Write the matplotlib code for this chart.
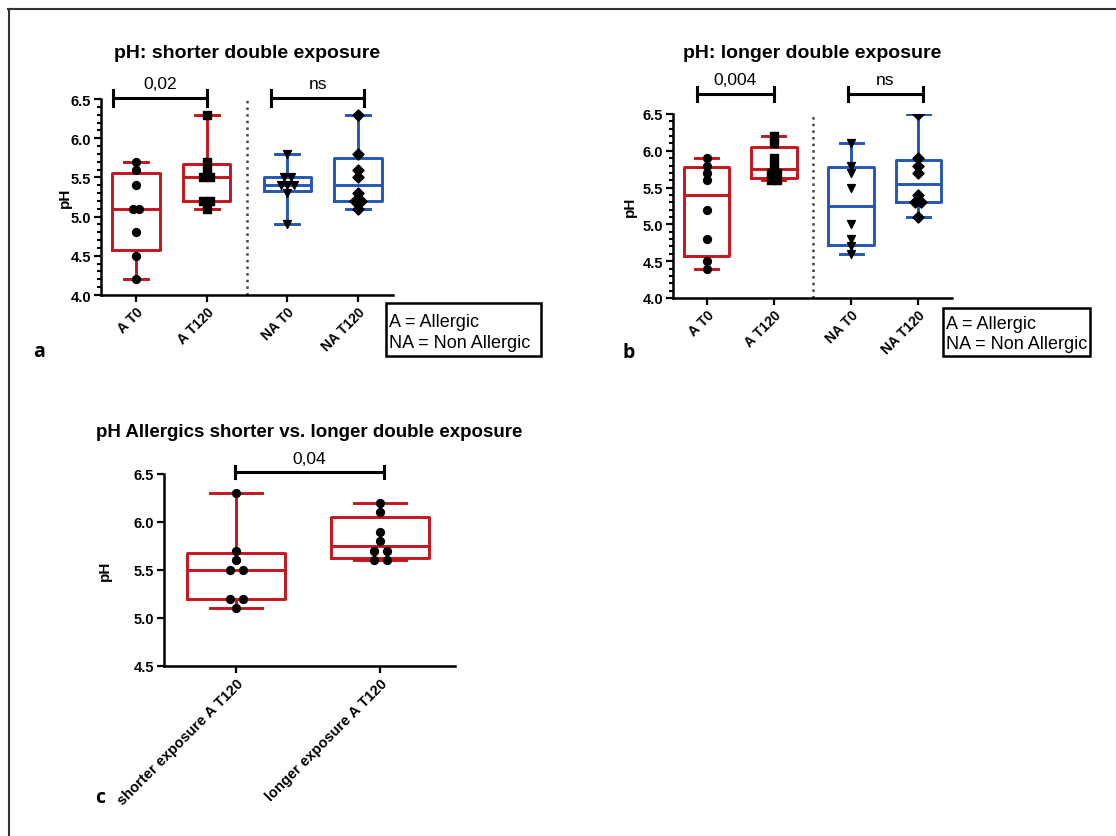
import numpy as np
import matplotlib
matplotlib.use("Agg")
import matplotlib.pyplot as plt
from matplotlib.lines import Line2D
from matplotlib.patches import Rectangle
from collections import Counter

plt.rcParams['font.family'] = ['Liberation Sans', 'DejaVu Sans']

W, H = 1116, 837
RED = '#c3161c'
BLUE = '#2556b5'

# panel a: shorter double exposure
a_labels = ["A T0", "A T120", "NA T0", "NA T120"]
a_at0 = [5.7, 5.6, 5.4, 5.1, 5.1, 4.8, 4.5, 4.2]
a_at120 = [6.3, 5.7, 5.6, 5.5, 5.5, 5.2, 5.2, 5.1]
a_nat0 = [5.8, 5.5, 5.5, 5.4, 5.4, 5.4, 5.3, 4.9]
a_nat120 = [6.3, 5.8, 5.6, 5.5, 5.3, 5.2, 5.2, 5.1]
a_pvals = ["0,02", "ns"]

# panel b: longer double exposure
b_labels = ["A T0", "A T120", "NA T0", "NA T120"]
b_at0 = [5.9, 5.8, 5.7, 5.6, 5.2, 4.8, 4.5, 4.4]
b_at120 = [6.2, 6.1, 5.9, 5.8, 5.7, 5.7, 5.6, 5.6]
b_nat0 = [6.1, 5.8, 5.7, 5.5, 5.0, 4.8, 4.7, 4.6]
b_nat120 = [6.5, 5.9, 5.8, 5.7, 5.4, 5.3, 5.3, 5.1]
b_pvals = ["0,004", "ns"]

# panel c: allergics shorter vs longer
c_labels = ["shorter exposure A T120", "longer exposure A T120"]
c_pval = "0,04"

legend_lines = ["A = Allergic", "NA = Non Allergic"]


def box_stats(vals):
    v = np.asarray(vals, dtype=float)
    q1, med, q3 = np.percentile(v, [25, 50, 75], method='weibull')
    return dict(med=med, q1=q1, q3=q3, whislo=v.min(), whishi=v.max(), fliers=[])


def spread(vals, pos, step=0.09):
    # put equal values side by side
    cnt = Counter(vals)
    seen = Counter()
    xs = []
    for v in vals:
        n = cnt[v]
        k = seen[v]
        seen[v] += 1
        xs.append(pos + (k - (n - 1) / 2) * step)
    return xs


def draw_group(ax, vals, pos, color, marker, capw=0.34):
    lw = 2.1
    ax.bxp([box_stats(vals)], positions=[pos], widths=0.68, capwidths=[capw],
           showfliers=False, patch_artist=False,
           boxprops=dict(color=color, linewidth=lw),
           medianprops=dict(color=color, linewidth=lw),
           whiskerprops=dict(color=color, linewidth=lw),
           capprops=dict(color=color, linewidth=lw))
    ax.scatter(spread(vals, pos), vals, marker=marker, s=32, color='black', zorder=3)


def style_axis(ax, ymin, ymax, minor=True):
    for s in ['top', 'right']:
        ax.spines[s].set_visible(False)
    for s in ['left', 'bottom']:
        ax.spines[s].set_linewidth(1.8)
    ax.set_ylim(ymin, ymax)
    ticks = np.arange(ymin, ymax + 0.01, 0.5)
    ax.set_yticks(ticks)
    ax.set_yticklabels([f"{t:.1f}" for t in ticks], fontweight='bold', fontsize=10.5)
    if minor:
        ax.set_yticks(np.arange(ymin, ymax + 0.01, 0.1), minor=True)
        ax.tick_params(axis='y', which='minor', length=3, width=1.5)
    ax.tick_params(axis='both', which='major', length=5, width=1.6, pad=2)
    ax.set_ylabel("pH", fontweight='bold', fontsize=11)


def sig_bar(ax, x1, x2, y, h, text, ty):
    ax.plot([x1, x2], [y, y], color='black', lw=2.2, clip_on=False)
    ax.plot([x1, x1], [y - h, y + h], color='black', lw=2.2, clip_on=False)
    ax.plot([x2, x2], [y - h, y + h], color='black', lw=2.2, clip_on=False)
    ax.text((x1 + x2) / 2, ty, text, ha='center', va='bottom', fontsize=12.5, clip_on=False)


def legend_box(fig, x0, y0, x1, y1, base1, base2):
    fig.add_artist(Rectangle((x0 / W, 1 - y1 / H), (x1 - x0) / W, (y1 - y0) / H,
                             transform=fig.transFigure, fill=False, ec='black', lw=1.8))
    for line, yb in zip(legend_lines, [base1, base2]):
        fig.text((x0 + 3) / W, 1 - yb / H, line, fontsize=13, va='baseline', ha='left')


fig = plt.figure(figsize=(W / 100, H / 100), dpi=100)

# ---- panel a
pos4 = [1, 2, 3.15, 4.15]
ax = fig.add_axes([101 / W, 1 - 296 / H, (393 - 101) / W, (296 - 100) / H])
for vals, p, col, m in zip([a_at0, a_at120, a_nat0, a_nat120], pos4,
                           [RED, RED, BLUE, BLUE], ['o', 's', 'v', 'D']):
    draw_group(ax, vals, p, col, m)
ax.set_xlim(0.5, 4.65)
style_axis(ax, 4.0, 6.5)
ax.set_xticks(pos4)
ax.set_xticklabels(a_labels, rotation=45, ha='right', rotation_mode='anchor',
                   fontweight='bold', fontsize=10)
ax.axvline((pos4[1] + pos4[2]) / 2, color='#444444', ls=':', lw=1.8)
ax.yaxis.set_label_coords(-0.10, 0.5)
sig_bar(ax, 0.67, 2.0, 6.51, 0.1, a_pvals[0], 6.6)
sig_bar(ax, 2.92, 4.24, 6.51, 0.1, a_pvals[1], 6.6)
fig.text(247 / W, 1 - 54 / H, "pH: shorter double exposure", fontweight='bold',
         fontsize=14, ha='center', va='center')

# ---- panel b
ax = fig.add_axes([673 / W, 1 - 299 / H, (952 - 673) / W, (299 - 115) / H])
for vals, p, col, m in zip([b_at0, b_at120, b_nat0, b_nat120], pos4,
                           [RED, RED, BLUE, BLUE], ['o', 's', 'v', 'D']):
    draw_group(ax, vals, p, col, m)
ax.set_xlim(0.5, 4.65)
style_axis(ax, 4.0, 6.5)
ax.set_xticks(pos4)
ax.set_xticklabels(b_labels, rotation=45, ha='right', rotation_mode='anchor',
                   fontweight='bold', fontsize=10)
ax.axvline((pos4[1] + pos4[2]) / 2, color='#444444', ls=':', lw=1.8)
ax.yaxis.set_label_coords(-0.13, 0.5)
sig_bar(ax, 0.85, 2.0, 6.77, 0.1, b_pvals[0], 6.87)
sig_bar(ax, 3.1, 4.22, 6.77, 0.1, b_pvals[1], 6.87)
fig.text(812 / W, 1 - 53 / H, "pH: longer double exposure", fontweight='bold',
         fontsize=14, ha='center', va='center')

# ---- panel c
ax = fig.add_axes([164 / W, 1 - 667 / H, (455 - 164) / W, (667 - 475) / H])
for vals, p in zip([a_at120, b_at120], [1, 2]):
    draw_group(ax, vals, p, RED, 'o', capw=0.36)
ax.set_xlim(0.5, 2.52)
style_axis(ax, 4.5, 6.5, minor=False)
ax.set_xticks([1, 2])
ax.set_xticklabels(c_labels, rotation=45, ha='right', rotation_mode='anchor',
                   fontweight='bold', fontsize=10.5)
ax.yaxis.set_label_coords(-0.18, 0.5)
sig_bar(ax, 0.99, 2.03, 6.52, 0.06, c_pval, 6.58)
ax.plot([0.99, 0.99], [6.46, 6.58], color='black', lw=2.2, clip_on=False)
fig.text(96 / W, 1 - 433 / H, "pH Allergics shorter vs. longer double exposure",
         fontweight='bold', fontsize=13.5, va='center', ha='left')

# legend boxes
legend_box(fig, 386, 304, 541, 357, 327, 348)
legend_box(fig, 943, 309, 1090, 357, 329, 349)

# panel letters
for x, y, t in [(33, 352, 'a'), (622, 353, 'b'), (95, 798, 'c')]:
    fig.text(x / W, 1 - y / H, t, fontweight='bold', fontsize=14,
             family=['Open Sans', 'DejaVu Sans'], va='center', ha='left')

# frame lines
fig.add_artist(Line2D([8 / W, 1], [1 - 10 / H, 1 - 10 / H], color='#333333', lw=1.5,
                      transform=fig.transFigure))
fig.add_artist(Line2D([9 / W, 9 / W], [0, 1 - 10 / H], color='#333333', lw=1.5,
                      transform=fig.transFigure))

fig.savefig("out.png", dpi=100)
